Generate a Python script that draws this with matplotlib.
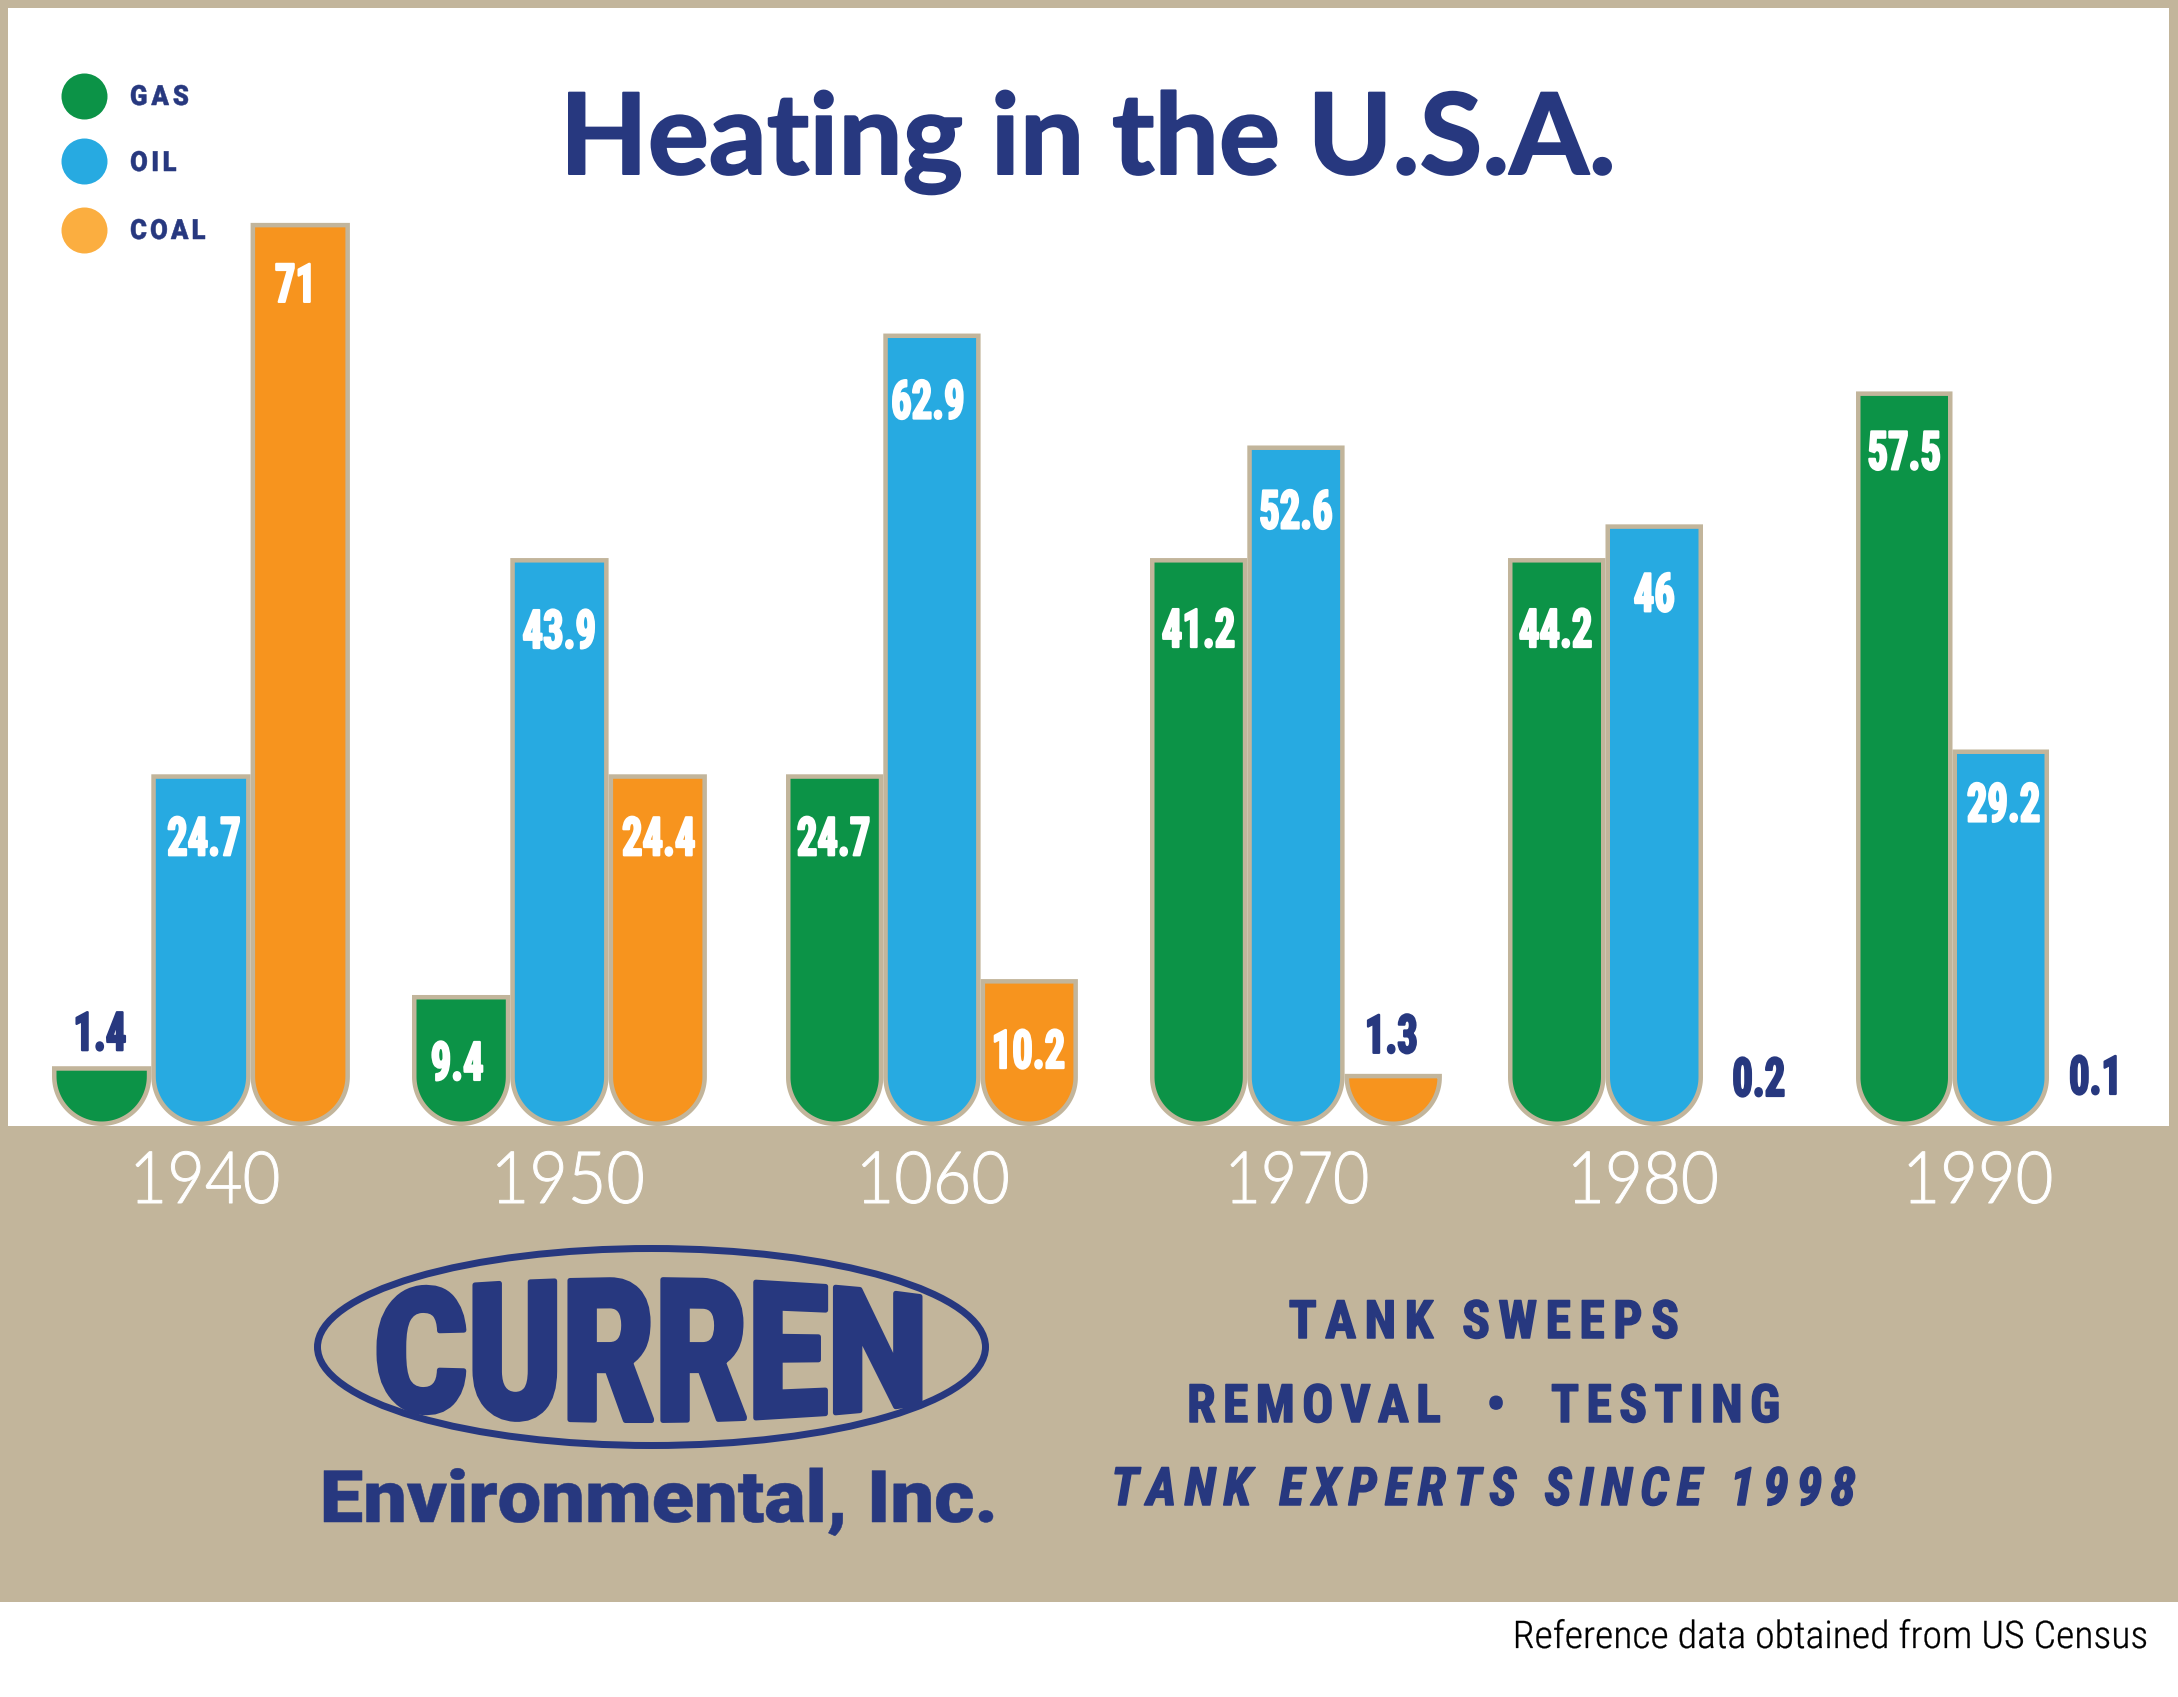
import numpy as np
import matplotlib
matplotlib.use("Agg")
import matplotlib.pyplot as plt
from matplotlib.path import Path
from matplotlib.patches import PathPatch, Ellipse, Rectangle
from matplotlib.patheffects import AbstractPathEffect
from matplotlib.transforms import IdentityTransform
from matplotlib.font_manager import FontProperties
from matplotlib.textpath import TextPath

# ---------- data ----------
years = ["1940", "1950", "1060", "1970", "1980", "1990"]
series_names = ["GAS", "OIL", "COAL"]
gas_values = ["1.4", "9.4", "24.7", "41.2", "44.2", "57.5"]
oil_values = ["24.7", "43.9", "62.9", "52.6", "46", "29.2"]
coal_values = ["71", "24.4", "10.2", "1.3", "0.2", "0.1"]
# bar heights as actually drawn in the picture (not quite the printed values)
gas_heights = [4.7, 10.3, 27.65, 44.65, 44.65, 57.75]
oil_heights = [27.65, 44.65, 62.3, 53.5, 47.3, 29.6]
coal_heights = [71.0, 27.65, 11.55, 4.1, 0.0, 0.0]

# ---------- layout ----------
W, H = 2178, 1697
BASE = 1126
UNIT = 12.72
NAVY, TAN = "#27387F", "#C2B59B"
GREEN, BLUE, ORANGE = "#0C9347", "#27AAE1", "#F7941E"
group_left = [52, 412, 786, 1150, 1508, 1856]
bar_width = [99.3, 98.3, 97.3, 97.3, 97.5, 96.5]
year_center = [207, 570, 935, 1299, 1645, 1980]
year_width = [142, 145, 145, 136, 143, 142]
gas_drop = [-16, 85, 81, 89, 89, 78]
oil_drop = [81, 90, 85, 83, 87, 72]
coal_drop = [79, 81, 89, -21, -30, -32]
gas_nudge = [-2, -4, -1, 0, -1, 0]
oil_nudge = [3, 0, -4, 0, 0, 3]
coal_nudge = [-4, 1, -1, -2, 7, -1]
nudges = [gas_nudge, oil_nudge, coal_nudge]


def py(y):
    return (BASE - y) / UNIT


class Warp(AbstractPathEffect):
    """Fit text between x0 and x1, or scale it about its centre, with optional
    letter spacing (needs text and fp) and an arched envelope."""

    def __init__(self, x0=None, x1=None, s=None, stroke=0.0, env=None, text=None, fp=None):
        super().__init__()
        self.x0, self.x1, self.s, self.stroke, self.env = x0, x1, s, stroke, env
        self.text, self.fp = text, fp

    def draw_path(self, renderer, gc, tpath, affine, rgbFace=None):
        v = np.array(affine.transform(tpath.vertices), dtype=float)
        codes = tpath.codes
        real = codes != Path.CLOSEPOLY
        xmin, xmax = v[real, 0].min(), v[real, 0].max()
        if self.x0 is None:
            c = (xmin + xmax) / 2
            v[:, 0] = c + (v[:, 0] - c) * self.s
        else:
            target = self.x1 - self.x0
            if self.s is None:
                v[:, 0] = self.x0 + (v[:, 0] - xmin) * target / (xmax - xmin)
            else:
                v[:, 0] = xmin + (v[:, 0] - xmin) * self.s
                starts = list(np.where(codes == Path.MOVETO)[0]) + [len(codes)]
                counts = [int(np.sum(TextPath((0, 0), ch, size=10, prop=self.fp).codes == Path.MOVETO))
                          if ch != " " else 0 for ch in self.text]
                w = v[real, 0].max() - v[real, 0].min()
                t = (target - w) / max(len(self.text) - 1, 1)
                sub = 0
                for k, n in enumerate(counts):
                    for _ in range(n):
                        if sub < len(starts) - 1:
                            v[starts[sub]:starts[sub + 1], 0] += k * t
                        sub += 1
                v[:, 0] += self.x0 - v[real, 0].min()
        if self.env is not None:
            ylo, yhi = v[real, 1].min(), v[real, 1].max()
            v[:, 1] = self.env(v[:, 0], (v[:, 1] - ylo) / (yhi - ylo))
        gc0 = renderer.new_gc()
        gc0.copy_properties(gc)
        gc0.set_linewidth(self.stroke * 0.72)
        gc0.set_foreground(rgbFace[:3] if rgbFace is not None else NAVY)
        renderer.draw_path(gc0, Path(v, codes), IdentityTransform(), rgbFace)
        gc0.restore()


fig = plt.figure(figsize=(W / 100, H / 100), dpi=100, facecolor="white")
ax = fig.add_axes([0, 0, 1, 1])
ax.set_xlim(0, W)
ax.set_ylim(py(H), py(0))
ax.axis("off")

# frame and band
ax.add_patch(Rectangle((0, py(1602)), W, py(BASE) - py(1602), fc=TAN, ec="none", zorder=5))
ax.add_patch(Rectangle((0, py(BASE)), 8, py(0) - py(BASE), fc=TAN, ec="none", zorder=5))
ax.add_patch(Rectangle((W - 9, py(BASE)), 9, py(0) - py(BASE), fc=TAN, ec="none", zorder=5))
ax.add_patch(Rectangle((0, py(8)), W, py(0) - py(8), fc=TAN, ec="none", zorder=5))

STROKE = 4.5


def bar_path(left, width, height):
    inset = STROKE / 2
    l, r = left + inset, left + width - inset
    rad = (r - l) / 2
    top = height - inset / UNIT
    yc = (rad + inset) / UNIT
    th = np.linspace(np.pi, 2 * np.pi, 60)
    xs = (l + r) / 2 + rad * np.cos(th)
    ys = yc + rad / UNIT * np.sin(th)
    if top < yc:
        keep = ys <= top
        xs, ys = xs[keep], ys[keep]
    pts = [(xs[0], top)] + list(zip(xs, ys)) + [(xs[-1], top)]
    return Path(pts + [pts[0]], closed=True)


def vtext(x, y, s, color="white", size=38, **kw):
    ax.text(x, y, s, color=color, fontsize=size, ha="center", va="baseline", zorder=8, **kw)


series = [(gas_heights, gas_values, gas_drop, GREEN),
          (oil_heights, oil_values, oil_drop, BLUE),
          (coal_heights, coal_values, coal_drop, ORANGE)]
for j, (heights, values, drops, col) in enumerate(series):
    for i, h in enumerate(heights):
        left = group_left[i] + j * bar_width[i]
        if h > 0:
            ax.add_patch(PathPatch(bar_path(left, bar_width[i], h), fc=col, ec=TAN,
                                   lw=STROKE * 0.72, joinstyle="miter", zorder=3 + 0.1 * j))
        d = drops[i]
        cx = left + bar_width[i] / 2 + nudges[j][i]
        ybase = h - d / UNIT
        vtext(cx, ybase, values[i], color="white" if d > 0 else NAVY, size=38.5,
              family="Roboto Condensed", weight="bold",
              path_effects=[Warp(s=0.76, stroke=2.2)])

# year labels
for c, w, y in zip(year_center, year_width, years):
    vtext(c, py(1203), y, size=52, family="Lato", weight=300,
          path_effects=[Warp(x0=c - w / 2, x1=c + w / 2, stroke=1.0)])

# title
vtext((569 + 1611) / 2, py(174), "Heating in the U.S.A.", color=NAVY, size=81, family="Lato", weight="bold",
      path_effects=[Warp(x0=569, x1=1611, stroke=2.0)])

# legend
leg_y = [96, 160.5, 230]
leg_cols = [GREEN, BLUE, "#FBAE40"]
leg_x1 = [188, 176, 205]
leg_base = [105, 171, 239]
leg_fp = FontProperties(family="Roboto", weight=900, size=20)
for name, yy, col, x1, b in zip(series_names, leg_y, leg_cols, leg_x1, leg_base):
    ax.plot([84], [py(yy)], "o", ms=46 * 0.72, mfc=col, mec="none", zorder=6)
    ax.text(131, py(b), name, color=NAVY, fontproperties=leg_fp,
            ha="left", va="baseline", zorder=8,
            path_effects=[Warp(x0=131, x1=x1, s=0.92, stroke=0.5, text=name, fp=leg_fp)])

# logo
ax.add_patch(Ellipse((651.5, py(1347)), 668, 197 / UNIT, fc="none", ec=NAVY, lw=7 * 0.72, zorder=6))


def arch(x, f):
    dx = (x - 640) / 430
    hh = 72.5 * np.sqrt(np.clip(1 - dx ** 2, 0.05, 1))
    yc = H - 1350
    return yc - hh + 2 * hh * f


vtext(650, py(1420), "CURREN", color=NAVY, size=100, family="Roboto", weight=900,
      path_effects=[Warp(x0=379, x1=920, stroke=5, env=arch)])
vtext(658, py(1522), "Environmental, Inc.", color=NAVY, size=52, family="Roboto", weight=900,
      path_effects=[Warp(x0=324, x1=993, stroke=0.5)])

# tag lines
lines = [("TANK SWEEPS", 1290, 1677, 1338, "normal"),
         ("REMOVAL  \u2022  TESTING", 1190, 1778, 1422, "normal"),
         ("TANK EXPERTS SINCE 1998", 1115, 1855, 1505, "italic")]
for s, a, b, base, style in lines:
    fp = FontProperties(family="Roboto Condensed", weight="bold", style=style, size=37)
    vtext((a + b) / 2, py(base), s, color=NAVY, fontproperties=fp,
          path_effects=[Warp(x0=a, x1=b, s=0.98, stroke=1.5, text=s, fp=fp)])

vtext((1516 + 2146) / 2, py(1648), "Reference data obtained from US Census", color="black", size=27.4,
      family="Roboto Condensed", weight=300,
      path_effects=[Warp(x0=1516, x1=2146, stroke=0.3)])

fig.savefig("out.png", dpi=100, facecolor="white")
